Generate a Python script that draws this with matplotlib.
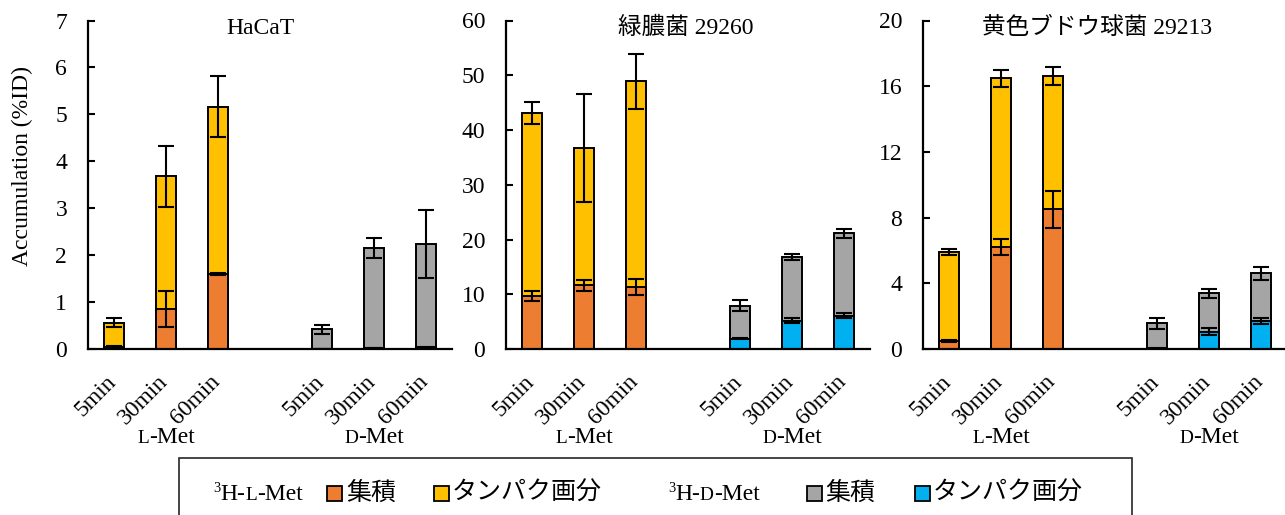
import matplotlib
matplotlib.use("Agg")
import matplotlib.pyplot as plt
import matplotlib.transforms as mtransforms
from matplotlib.patches import Rectangle

SERIF = ["Liberation Serif", "Noto Sans CJK JP", "DejaVu Sans"]
plt.rcParams["font.family"] = SERIF

# ---- data -------------------------------------------------------------
times = ["5min", "30min", "60min"]
groups = ["L", "D"]
titles = ["HaCaT", "緑膿菌 29260", "黄色ブドウ球菌 29213"]
y_max = [7, 60, 20]
y_step = [1, 10, 4]

# HaCaT
hacat_l_acc = [0.05, 0.85, 1.60]
hacat_l_acc_err = [0.01, 0.38, 0.03]
hacat_l_prot = [0.56, 3.68, 5.16]
hacat_l_prot_err = [0.10, 0.65, 0.65]
hacat_d_acc = [0.42, 2.15, 2.24]
hacat_d_acc_err = [0.09, 0.22, 0.73]
hacat_d_prot = [0.01, 0.02, 0.04]
hacat_d_prot_err = [0.0, 0.0, 0.01]

# 緑膿菌 29260
pa_l_acc = [9.7, 11.6, 11.3]
pa_l_acc_err = [0.9, 1.0, 1.45]
pa_l_prot = [43.1, 36.7, 48.9]
pa_l_prot_err = [2.0, 9.8, 5.0]
pa_d_acc = [7.9, 16.8, 21.1]
pa_d_acc_err = [1.0, 0.5, 0.75]
pa_d_prot = [1.9, 5.2, 6.1]
pa_d_prot_err = [0.1, 0.45, 0.5]

# 黄色ブドウ球菌 29213
sa_l_acc = [0.5, 6.2, 8.5]
sa_l_acc_err = [0.05, 0.48, 1.13]
sa_l_prot = [5.93, 16.47, 16.63]
sa_l_prot_err = [0.18, 0.5, 0.56]
sa_d_acc = [1.56, 3.39, 4.61]
sa_d_acc_err = [0.33, 0.27, 0.41]
sa_d_prot = [0.05, 1.06, 1.71]
sa_d_prot_err = [0.02, 0.2, 0.2]

panel_data = [
    (hacat_l_acc, hacat_l_acc_err, hacat_l_prot, hacat_l_prot_err,
     hacat_d_acc, hacat_d_acc_err, hacat_d_prot, hacat_d_prot_err),
    (pa_l_acc, pa_l_acc_err, pa_l_prot, pa_l_prot_err,
     pa_d_acc, pa_d_acc_err, pa_d_prot, pa_d_prot_err),
    (sa_l_acc, sa_l_acc_err, sa_l_prot, sa_l_prot_err,
     sa_d_acc, sa_d_acc_err, sa_d_prot, sa_d_prot_err),
]

C_ORANGE = "#ED7D31"
C_YELLOW = "#FFC000"
C_GRAY = "#A5A5A5"
C_BLUE = "#00B0F0"

FS = 17
W, H = 1285, 515

fig = plt.figure(figsize=(W / 100, H / 100), dpi=100)
renderer = fig.canvas.get_renderer()


def rich_text(x, y, pieces, ha="left"):
    """Draw text pieces (text, size, rise_px) side by side, baseline at display (x, y)."""
    widths = []
    for s, size, rise in pieces:
        t = fig.text(0, 0, s, size=size)
        widths.append(t.get_window_extent(renderer).width)
        t.remove()
    total = sum(widths)
    if ha == "center":
        x -= total / 2
    for (s, size, rise), w in zip(pieces, widths):
        fig.text(x, y + rise, s, size=size, va="baseline", ha="left",
                 transform=mtransforms.IdentityTransform())
        x += w


def met_label(letter, size, sup=False):
    pieces = []
    if sup:
        pieces += [("3", size * 0.6, 8), ("H-", size, 0)]
    pieces += [(letter, size * 0.82, 0), ("-Met", size, 0)]
    return pieces


axes_left_px = [88, 506, 923]
axes_w_px = 364
axes_top_px, axes_bot_px = 20.5, 349
title_x = [0.4725, 0.4945, 0.479]

bar_w = 0.40
err_kw = dict(fmt="none", ecolor="black", elinewidth=1.5, capsize=5.5,
              capthick=1.5, zorder=5)
edge_kw = dict(edgecolor="black", linewidth=1.4)

for i, data in enumerate(panel_data):
    (l_acc, l_acc_e, l_prot, l_prot_e, d_acc, d_acc_e, d_prot, d_prot_e) = data
    ax = fig.add_axes([axes_left_px[i] / W, (H - axes_bot_px) / H,
                       axes_w_px / W, (axes_bot_px - axes_top_px) / H])
    xl = [k for k in range(len(times))]
    xd = [k + len(times) + 1 for k in range(len(times))]

    # L-Met: protein fraction behind, accumulation in front
    ax.bar(xl, l_prot, bar_w, color=C_YELLOW, zorder=2, **edge_kw)
    ax.errorbar(xl, l_prot, yerr=l_prot_e, **err_kw)
    ax.bar(xl, l_acc, bar_w, color=C_ORANGE, zorder=3, **edge_kw)
    ax.errorbar(xl, l_acc, yerr=l_acc_e, **err_kw)
    # D-Met: accumulation behind, protein fraction in front
    ax.bar(xd, d_acc, bar_w, color=C_GRAY, zorder=2, **edge_kw)
    ax.errorbar(xd, d_acc, yerr=d_acc_e, **err_kw)
    ax.bar(xd, d_prot, bar_w, color=C_BLUE, zorder=3, **edge_kw)
    ax.errorbar(xd, d_prot, yerr=d_prot_e, **err_kw)

    ax.set_xlim(-0.5, 2 * len(times) + 0.5)
    ax.set_ylim(0, y_max[i])
    ax.set_yticks(range(0, y_max[i] + 1, y_step[i]))
    ax.tick_params(axis="y", direction="in", length=5, width=1.5,
                   pad=15, labelsize=FS)
    ax.set_xticks([])
    for side in ("top", "right"):
        ax.spines[side].set_visible(False)
    for side in ("left", "bottom"):
        ax.spines[side].set_linewidth(1.6)
        ax.spines[side].set_zorder(6)

    ax.text(title_x[i], 0.977, titles[i], transform=ax.transAxes,
            ha="center", va="center", size=FS)

    # rotated time labels
    off = mtransforms.ScaledTranslation(0.06, -0.22, fig.dpi_scale_trans)
    trans = ax.get_xaxis_transform() + off
    for xs in (xl, xd):
        for x, lab in zip(xs, times):
            ax.text(x, 0, lab, transform=trans, rotation=45, ha="right",
                    va="top", size=FS)

    # group labels
    base_y = H - 443
    for xs, g in zip((xl, xd), groups):
        xc = ax.transData.transform((xs[1], 0))[0]
        rich_text(xc, base_y, met_label(g, FS), ha="center")

fig.text(22 / W, (H - 166) / H, "Accumulation (%ID)", rotation=90,
         ha="center", va="center", size=FS)

# legend box
fig.patches.append(Rectangle((179 / W, -0.05), (1132 - 179) / W,
                             (H - 458) / H + 0.05, transform=fig.transFigure,
                             fill=False, edgecolor="#262626", linewidth=1.2))
leg_base = H - 500
LFS = 17
CJK_FS = 18
rich_text(213, leg_base, met_label("L", LFS, sup=True))
rich_text(668, leg_base, met_label("D", LFS, sup=True))
sq = 15
for x0, col in [(327, C_ORANGE), (434, C_YELLOW), (807, C_GRAY), (915, C_BLUE)]:
    fig.patches.append(Rectangle((x0 / W, (H - 501) / H), sq / W, sq / H,
                                 transform=fig.transFigure, facecolor=col,
                                 edgecolor="black", linewidth=1.3))
for x0, s in [(346, "集積"), (452, "タンパク画分"), (825, "集積"), (933, "タンパク画分")]:
    fig.text(x0 / W, (H - 500) / H, s, size=CJK_FS, va="baseline", ha="left")

fig.savefig("out.png", dpi=100)
